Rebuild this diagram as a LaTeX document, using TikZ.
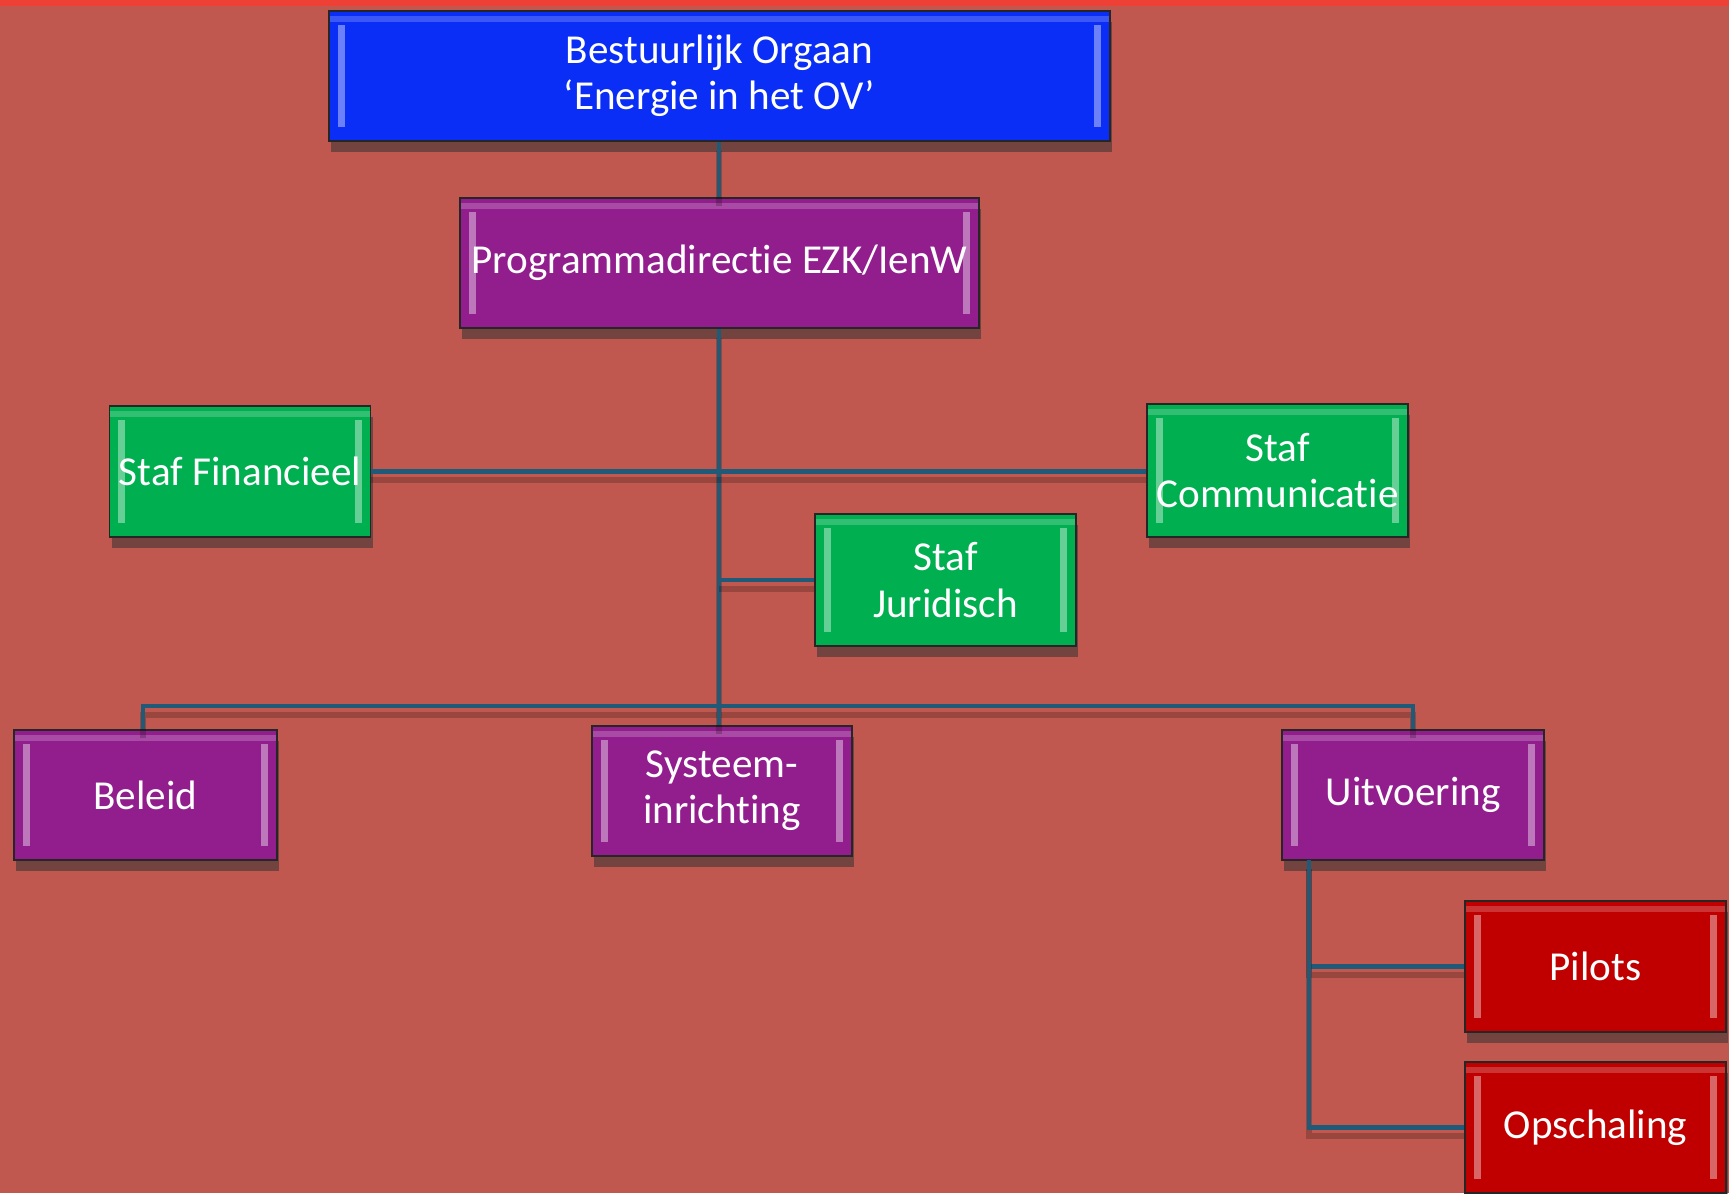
\documentclass[tikz,border=0pt]{standalone}
\usepackage{fontspec}
\setmainfont{Carlito}[Ligatures=NoCommon]
\usepackage{xcolor}
\usepackage{tikz}
\usetikzlibrary{shadows}

\definecolor{bgred}{HTML}{C0584F}
\definecolor{topred}{HTML}{EE4035}
\definecolor{boardblue}{HTML}{0A2EF5}
\definecolor{dirpurple}{HTML}{921E8E}
\definecolor{stafgreen}{HTML}{00AF50}
\definecolor{pilotred}{HTML}{C00000}
\definecolor{linkteal}{HTML}{1F5A78}

\begin{document}
\begin{tikzpicture}[
    x=0.01cm, y=-0.01cm,
    box/.style={rectangle, draw=black!85, line width=0.5pt, minimum width=2.61cm, minimum height=1.31cm,
                align=center, text=white, font=\fontsize{11.7}{13.1}\selectfont, inner sep=1pt,
                drop shadow={shadow xshift=0.6pt, shadow yshift=-3pt, opacity=0.55, fill=black!80},
                path picture={
                    \fill[white, opacity=0.4] ([xshift=2.5pt, yshift=-4pt]path picture bounding box.north west)
                        rectangle ([xshift=4.5pt, yshift=4pt]path picture bounding box.south west);
                    \fill[white, opacity=0.4] ([xshift=-2.5pt, yshift=-4pt]path picture bounding box.north east)
                        rectangle ([xshift=-4.5pt, yshift=4pt]path picture bounding box.south east);
                    \fill[white, opacity=0.2] ([yshift=-1.5pt]path picture bounding box.north west)
                        rectangle ([yshift=-3pt]path picture bounding box.north east);
                }},
    board/.style={box, fill=boardblue, minimum width=7.81cm, minimum height=1.30cm},
    dir/.style={box, fill=dirpurple},
    staf/.style={box, fill=stafgreen},
    pilot/.style={box, fill=pilotred},
    link/.style={draw=linkteal, line width=1.2pt,
                 preaction={draw=black, opacity=0.2, line width=1.6pt, transform canvas={yshift=-2.5pt}}}
]
    % Background
    \fill[bgred] (0,0) rectangle (1729,1193);
    \fill[topred] (0,0) rectangle (1729,6);
    \useasboundingbox (0,0) rectangle (1729,1193);

    % Junctions
    \coordinate (bus) at (719,706);
    \coordinate (uitdrop) at (1309,860);

    % Bestuurlijk Orgaan
    \node[board] (orgaan) at (719.5,76) {Bestuurlijk Orgaan\\‘Energie in het OV’};

    % Programmadirectie
    \node[dir, minimum width=5.19cm, minimum height=1.30cm] (prog) at (719.5,263) {Programmadirectie EZK/IenW};

    % Staf
    \node[staf] (fin) at (240,471.5) {Staf Financieel};
    \node[staf, minimum height=1.33cm] (com) at (1277.5,470.5) {Staf\\Communicatie};
    \node[staf, minimum height=1.32cm] (jur) at (945.5,580) {Staf\\Juridisch};

    % Lijn
    \node[dir, minimum width=2.63cm, minimum height=1.30cm] (beleid) at (145.5,795) {Beleid};
    \node[dir, minimum width=2.60cm, minimum height=1.30cm] (sys) at (722,791) {Systeem-\\inrichting};
    \node[dir, minimum width=2.62cm, minimum height=1.30cm] (uit) at (1413,795) {Uitvoering};

    % Uitvoering
    \node[pilot] (pilots) at (1595.5,966.5) {Pilots};
    \node[pilot] (opsch) at (1595.5,1127.5) {Opschaling};

    % Lines
    \draw[link] (orgaan.south -| bus) -- (prog.north -| bus);
    \draw[link] (prog.south -| bus) -- (bus);
    \draw[link] (fin.east) -- (fin.east -| com.west);
    \draw[link] (jur.west -| bus) -- (jur.west);
    \draw[link] (beleid.north -| 143,0) |- (bus) -| (uit.north);
    \draw[link] (bus) -- (sys.north -| bus);
    \draw[link] (uit.south -| uitdrop) |- (pilots.west);
    \draw[link] (uitdrop) |- (opsch.west);
\end{tikzpicture}
\end{document}
